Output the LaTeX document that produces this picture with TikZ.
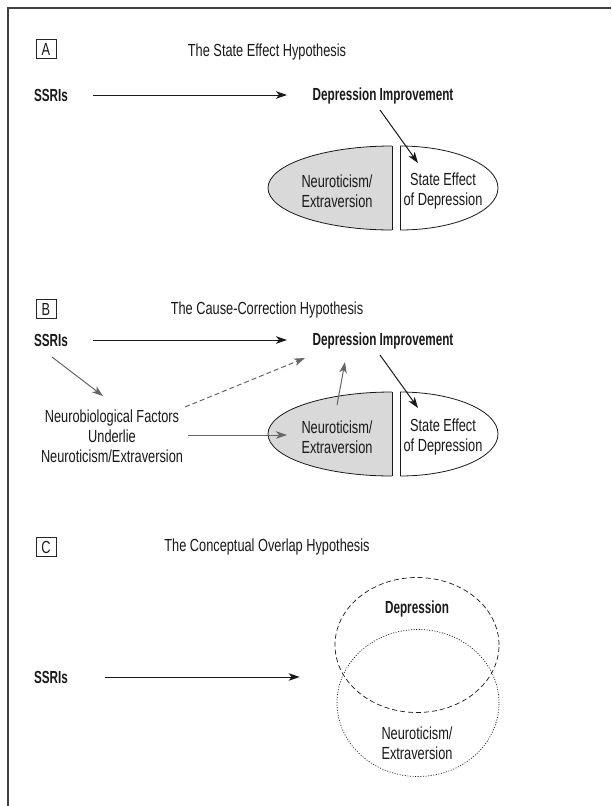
\documentclass[tikz,border=0pt]{standalone}
\usepackage{fontspec}
\setmainfont{Liberation Sans}[FakeStretch=0.73]
\newfontfamily\heavyfont{Liberation Sans}[FakeStretch=0.67]
\usetikzlibrary{arrows.meta, calc, shapes.geometric}

\tikzset{
  lbl/.style={font=\fontsize{17.5}{20}\selectfont, text=black!90, align=center, inner sep=0pt},
  heavy/.style={lbl, font=\fontsize{17.5}{20}\selectfont\heavyfont\bfseries},
  panel/.style={lbl, draw=black!85, line width=0.8pt, minimum width=20pt, minimum height=19pt},
  arr/.style={-{Stealth[length=11pt, width=7.5pt, inset=3pt]}, line width=1pt, black!90},
  grayarr/.style={arr, black!60},
  half/.style={draw=black!90, line width=0.8pt}
}

\begin{document}
\begin{tikzpicture}[x=1pt, y=-1pt]
\useasboundingbox (0,0) rectangle (611,806);

% frame
\draw[line width=1.2pt, black!75] (8,806) -- (8,8) -- (611,8);

% half ovals, panels A and B
\foreach \cy in {188,434}{
  \begin{scope}
    \clip (260,\cy-50) rectangle (392,\cy+50);
    \draw[half, fill=black!15] (392,\cy) ellipse [x radius=124, y radius=42];
  \end{scope}
  \draw[half] (392,\cy-42) -- (392,\cy+42);
  \begin{scope}
    \clip (400,\cy-50) rectangle (510,\cy+50);
    \draw[half, fill=white] (400,\cy) ellipse [x radius=98, y radius=42];
  \end{scope}
  \draw[half] (400,\cy-42) -- (400,\cy+42);
}

% A
\node[panel] (boxA) at (46,49) {A};
\node[lbl] (titleA) at (267,52) {The State Effect Hypothesis};
\node[heavy] (ssriA) at (51,95) {SSRIs};
\node[heavy] (depA) at (383,96) {Depression Improvement};
\node[lbl] (neuA) at (337,191) {Neuroticism/\\Extraversion};
\node[lbl] (stateA) at (443,191) {State Effect\\of Depression};
\draw[arr] ($(ssriA)+(42,0)$) -- ($(depA)+(-96,-1)$);
\draw[arr] ($(depA)+(-3,14)$) -- ($(stateA)+(-25,-28)$);

% B
\node[panel] (boxB) at (46,309) {B};
\node[lbl] (titleB) at (267,310) {The Cause-Correction Hypothesis};
\node[heavy] (ssriB) at (51,340) {SSRIs};
\node[heavy] (depB) at (383,341) {Depression Improvement};
\node[lbl] (neuroB) at (112,436) {Neurobiological Factors\\Underlie\\Neuroticism/Extraversion};
\node[lbl] (neuB) at (337,437) {Neuroticism/\\Extraversion};
\node[lbl] (stateB) at (443,437) {State Effect\\of Depression};
\draw[arr] ($(ssriB)+(42,0)$) -- ($(depB)+(-96,-1)$);
\draw[grayarr] ($(ssriB)+(1,17)$) -- ($(neuroB)+(-9,-40)$);
\draw[grayarr, dash pattern=on 5pt off 3pt] ($(neuroB)+(73,-29)$) -- ($(depB)+(-78,17)$);
\draw[grayarr] ($(neuroB)+(76,-1)$) -- ($(neuB)+(-50,-2)$);
\draw[grayarr] ($(neuB)+(0,-32)$) -- ($(depB)+(-38,21)$);
\draw[arr] ($(depB)+(-3,14)$) -- ($(stateB)+(-25,-29)$);

% C
\node[panel] (boxC) at (46,547) {C};
\node[lbl] (titleC) at (267,547) {The Conceptual Overlap Hypothesis};
\node[heavy] (ssriC) at (51,677) {SSRIs};
\node[draw=black!90, line width=0.7pt, dash pattern=on 5pt off 3pt, ellipse, inner sep=0pt,
      minimum width=164pt, minimum height=135pt] (depC) at (417,645) {};
\node[draw=black!90, line width=0.7pt, dash pattern=on 1pt off 1.6pt, ellipse, inner sep=0pt,
      minimum width=162pt, minimum height=147pt] (neuC) at (418,703) {};
\node[heavy] (depCtxt) at (417,609) {Depression};
\node[lbl] (neuCtxt) at (417,743) {Neuroticism/\\Extraversion};
\draw[arr] ($(ssriC)+(54,0)$) -- ($(neuC.west |- ssriC)+(-37,0)$);
\end{tikzpicture}
\end{document}
